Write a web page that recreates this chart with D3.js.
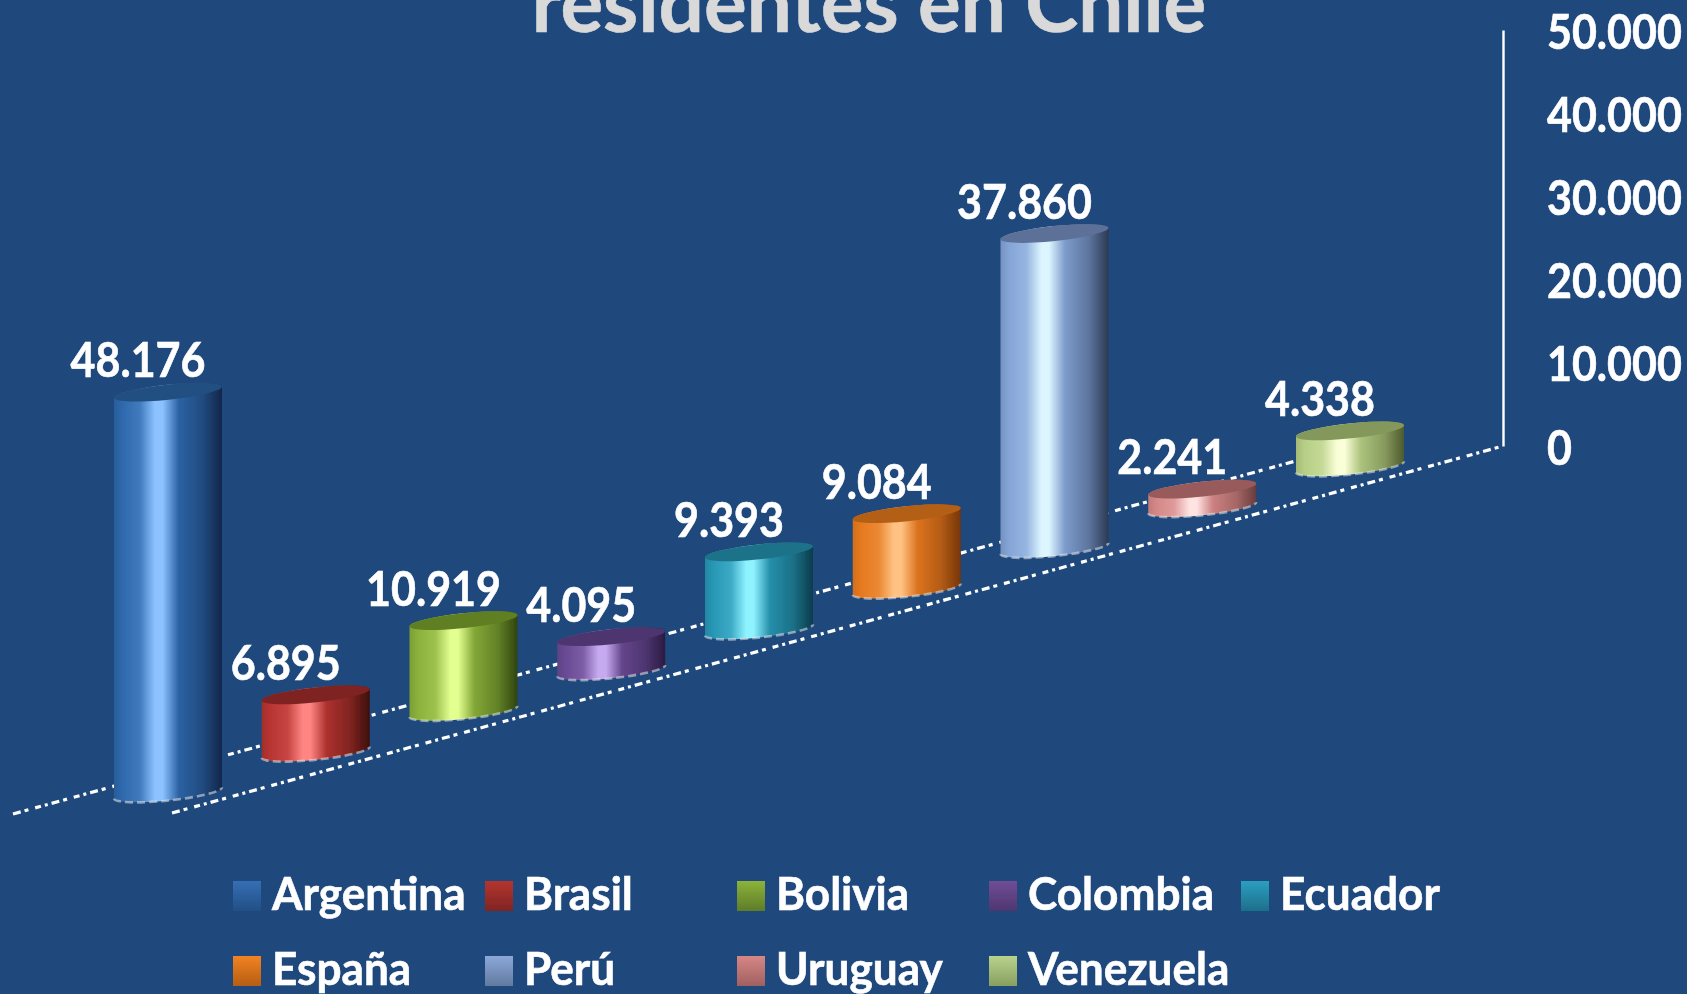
<!DOCTYPE html>
<html>
<head>
<meta charset="utf-8">
<script src="https://cdn.jsdelivr.net/npm/d3@7"></script>
<style>
  html, body { margin: 0; padding: 0; background: #1f497d; overflow: hidden; }
  text { font-family: Lato, "Open Sans", sans-serif; font-weight: 700; fill: #fff; stroke: #fff; stroke-width: 0.6px; }
  text.titulo { fill: #d9d9d9; stroke: #d9d9d9; }
</style>
</head>
<body>
<script>
var paises = ["Argentina", "Brasil", "Bolivia", "Colombia", "Ecuador", "España", "Perú", "Uruguay", "Venezuela"];
var residentes = [48176, 6895, 10919, 4095, 9393, 9084, 37860, 2241, 4338];
var ejeTicks = [0, 10000, 20000, 30000, 40000, 50000];
var titulo = "residentes en Chile";

// left side, highlight, right side, lid
var coloresCilindro = [
    ["#2e69ad", "#8cc2ff", "#12264a", "#234f82"],
    ["#b83532", "#ff8583", "#3d0f0c", "#7e2320"],
    ["#8cb23c", "#e2ff90", "#2f440e", "#5f7f24"],
    ["#6a4a94", "#c6aaf0", "#2a1b42", "#4e3570"],
    ["#2898b6", "#8ef2ff", "#0b3c4c", "#1f7389"],
    ["#e67a20", "#ffc282", "#753608", "#b45f14"],
    ["#85a5d8", "#dcf5ff", "#2c3a54", "#5b7098"],
    ["#d68888", "#ffe2e2", "#683c3c", "#985a5a"],
    ["#b6cf86", "#fbffd8", "#4e5a2e", "#84985c"]
];
// legend swatches top, bottom
var coloresLeyenda = [
    ["#356fb5", "#224f85"], ["#b5342f", "#7f2523"], ["#8cb33a", "#5d7c28"],
    ["#704d96", "#4f3670"], ["#2b9fc0", "#1d6f8b"], ["#f28322", "#b65d13"],
    ["#8ba8d9", "#627a9f"], ["#d68785", "#a06060"], ["#b9d28c", "#87a060"]
];

var width = 1687, height = 994;

var svg = d3.select("body").append("svg")
    .attr("width", width)
    .attr("height", height)
    .style("display", "block");

svg.append("rect").attr("width", width).attr("height", height).attr("fill", "#1f497d");

var defs = svg.append("defs");
defs.append("filter").attr("id", "suave")
    .attr("x", "-5%").attr("y", "-5%").attr("width", "110%").attr("height", "110%")
    .append("feGaussianBlur").attr("stdDeviation", 0.6);

var plot = svg.append("g").attr("filter", "url(#suave)");

// Domain Scale
var esc = d3.scaleLinear().domain([0, 50000]).range([446, 30]);
var xPais = d3.scalePoint().domain(d3.range(paises.length)).range([168, 1350]);
var yPiso = d3.scalePoint().domain(d3.range(paises.length)).range([793, 467]);

function alto(v) { return esc(0) - esc(v); }

// floor lines
var linea = d3.line();
var pisos = [
    [[13, 814], [1350, 446]],
    [[172, 813], [1503, 446]]
];
plot.selectAll(".piso").data(pisos).enter().append("path")
    .attr("class", "piso")
    .attr("d", linea)
    .attr("fill", "none")
    .attr("stroke", "#fff")
    .attr("stroke-width", 3.2)
    .attr("stroke-dasharray", "8 4 4 7 6 4 3 4");

// value axis
var es = d3.formatLocale({ decimal: ",", thousands: ".", grouping: [3], currency: ["$", ""] });
var eje = d3.axisRight(esc)
    .tickValues(ejeTicks)
    .tickSize(0)
    .tickFormat(es.format(",d"));

var gEje = plot.append("g").attr("transform", "translate(1503,0)").call(eje);
gEje.select(".domain").attr("stroke", "#fff").attr("stroke-width", 2.4);
gEje.selectAll("text")
    .attr("x", 0)
    .attr("dy", 0)
    .attr("transform", "translate(44,18) scale(0.915,1)")
    .style("font-size", "47px")
    .style("font-family", "Lato")
    .attr("fill", "#fff");

// cylinders
var rx = 54.3, ry = 7.5, giro = -6;
var ca = Math.cos(giro * Math.PI / 180), sa = Math.sin(giro * Math.PI / 180);
var px = rx * ca, py = rx * sa;

paises.forEach(function (p, i) {
    var c = coloresCilindro[i];
    var g = defs.append("linearGradient").attr("id", "cil" + i);
    g.append("stop").attr("offset", "0%").attr("stop-color", d3.interpolateRgb(c[0], c[2])(0.18));
    g.append("stop").attr("offset", "8%").attr("stop-color", c[0]);
    g.append("stop").attr("offset", "24%").attr("stop-color", d3.interpolateRgb(c[0], c[1])(0.2));
    g.append("stop").attr("offset", "38%").attr("stop-color", c[1]);
    g.append("stop").attr("offset", "45%").attr("stop-color", c[1]);
    g.append("stop").attr("offset", "60%").attr("stop-color", d3.interpolateRgb(c[0], c[2])(0.1));
    g.append("stop").attr("offset", "82%").attr("stop-color", d3.interpolateRgb(c[0], c[2])(0.45));
    g.append("stop").attr("offset", "100%").attr("stop-color", c[2]);
});

var cil = plot.selectAll(".cil").data(residentes).enter().append("g")
    .attr("class", "cil")
    .attr("transform", function (d, i) { return "translate(" + xPais(i) + "," + yPiso(i) + ")"; });

cil.append("path")
    .attr("d", function (d) {
        var h = alto(d);
        return "M" + (-px) + "," + (-py - h)
            + "L" + (-px) + "," + (-py)
            + "A" + rx + "," + ry + " " + giro + " 0 0 " + px + "," + py
            + "L" + px + "," + (py - h)
            + "A" + rx + "," + ry + " " + giro + " 0 0 " + (-px) + "," + (-py - h) + "Z";
    })
    .attr("fill", function (d, i) { return "url(#cil" + i + ")"; });

// light rim along the bottom
cil.append("path")
    .attr("d", "M" + (-px) + "," + (-py) + "A" + rx + "," + ry + " " + giro + " 0 0 " + px + "," + py)
    .attr("fill", "none")
    .attr("stroke", "#e8e8e8")
    .attr("stroke-opacity", 0.55)
    .attr("stroke-width", 2.6)
    .attr("stroke-dasharray", "8 4");

// lid
cil.append("ellipse")
    .attr("cy", function (d) { return -alto(d); })
    .attr("rx", rx)
    .attr("ry", ry)
    .attr("transform", function (d) { return "rotate(" + giro + " 0 " + (-alto(d)) + ")"; })
    .attr("fill", function (d, i) { return coloresCilindro[i][3]; });

// data labels
plot.selectAll(".dato").data(residentes).enter().append("text")
    .attr("class", "dato")
    .attr("transform", function (d, i) {
        return "translate(" + (xPais(i) - 30) + "," + (yPiso(i) - alto(d) - 15) + ") scale(0.915,1)";
    })
    .attr("text-anchor", "middle")
    .style("font-size", "47px")
    .text(function (d) { return es.format(",d")(d); });

// legend
var colX = d3.scalePoint().domain(d3.range(5)).range([233, 1241]);
var filaY = d3.scalePoint().domain([0, 1]).range([896, 971]);

paises.forEach(function (p, i) {
    var g = defs.append("linearGradient").attr("id", "ley" + i).attr("x2", 0).attr("y2", 1);
    g.append("stop").attr("offset", "0%").attr("stop-color", coloresLeyenda[i][0]);
    g.append("stop").attr("offset", "100%").attr("stop-color", coloresLeyenda[i][1]);
});

var ley = plot.selectAll(".ley").data(paises).enter().append("g")
    .attr("class", "ley")
    .attr("transform", function (d, i) { return "translate(" + colX(i % 5) + "," + filaY(Math.floor(i / 5)) + ")"; });

ley.append("rect")
    .attr("y", -15)
    .attr("width", 28)
    .attr("height", 30)
    .attr("fill", function (d, i) { return "url(#ley" + i + ")"; });

ley.append("text")
    .attr("transform", "translate(39,14) scale(0.96,1)")
    .style("font-size", "46px")
    .text(function (d) { return d; });

// title, cut off by the top edge
plot.append("text")
    .attr("class", "titulo")
    .attr("x", 869)
    .attr("y", 32)
    .attr("text-anchor", "middle")
    .style("font-size", "80px")
    .text(titulo);
</script>
</body>
</html>
